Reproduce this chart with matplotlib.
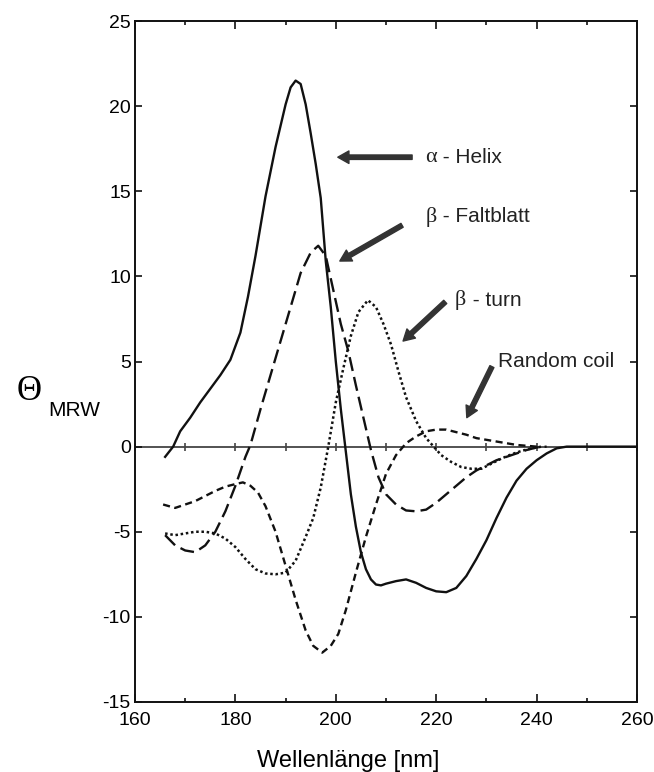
import matplotlib
matplotlib.use("Agg")
import matplotlib.pyplot as plt
from matplotlib.ticker import MultipleLocator

plt.rcParams['font.family'] = ['Liberation Sans', 'DejaVu Sans']
plt.rcParams['axes.unicode_minus'] = False

# CD spectra (wavelength in nm, theta_MRW)
helix_x = [166, 167.6, 169, 171, 173, 175, 177, 179, 181, 182.5, 184, 186, 188, 190, 191,
           192, 193, 194, 195, 196, 197, 198, 199, 200, 201, 202, 203, 204, 205, 206, 207,
           208, 209, 210, 212, 214, 216, 218, 220, 222, 224, 226, 228, 230, 232, 234, 236,
           238, 240, 242, 244, 246, 260]
helix_y = [-0.6, 0, 0.9, 1.7, 2.6, 3.4, 4.2, 5.1, 6.7, 8.8, 11.2, 14.7, 17.6, 20.1, 21.1,
           21.5, 21.3, 20.1, 18.4, 16.6, 14.6, 10.9, 8.2, 5.0, 2.2, -0.3, -2.8, -4.7, -6.2,
           -7.2, -7.8, -8.1, -8.15, -8.05, -7.9, -7.8, -8.0, -8.3, -8.5, -8.55, -8.3, -7.6,
           -6.6, -5.5, -4.2, -3.0, -2.0, -1.3, -0.8, -0.4, -0.1, 0, 0]

sheet_x = [166, 168, 170, 172, 174, 176, 178, 180, 182, 183, 185, 187, 189, 191, 193, 195,
           196.5, 198, 199.5, 201, 202.5, 204, 205.5, 207, 208.5, 210, 212, 214, 216, 218,
           220, 222, 224, 226, 228, 230, 232, 234, 236, 238, 240, 242]
sheet_y = [-5.2, -5.8, -6.1, -6.2, -5.8, -5.0, -3.8, -2.3, -0.6, 0.1, 2.2, 4.2, 6.2, 8.2,
           10.2, 11.4, 11.8, 11.2, 9.2, 7.2, 5.6, 3.6, 1.7, -0.2, -1.8, -2.8, -3.4, -3.75,
           -3.8, -3.7, -3.3, -2.8, -2.3, -1.8, -1.4, -1.1, -0.8, -0.6, -0.4, -0.2, -0.05, 0]

turn_x = [166, 168, 170, 172, 174, 176, 178, 180, 182, 184, 186, 188, 190, 192, 194, 195.5,
          197, 198.5, 200, 201.5, 203, 204.5, 206.4, 208, 209.5, 211, 212.5, 214, 216, 218,
          219.5, 221, 223, 225, 227, 229, 231, 233, 235, 237, 239, 241]
turn_y = [-5.1, -5.2, -5.1, -5.0, -5.0, -5.1, -5.4, -5.9, -6.6, -7.2, -7.45, -7.5, -7.4,
          -6.7, -5.3, -4.2, -2.4, 0, 2.6, 4.6, 6.5, 7.9, 8.6, 8.2, 7.2, 6.0, 4.4, 2.9, 1.5,
          0.5, 0, -0.5, -0.9, -1.2, -1.3, -1.3, -1.0, -0.7, -0.45, -0.25, -0.1, 0]

coil_x = [165.6, 168, 170, 172, 174, 176, 178, 180, 181.5, 183, 184.5, 186, 188, 190, 192,
          194, 195.5, 197.3, 199, 200.5, 202, 204, 206, 208, 210, 212, 214, 216, 218, 220,
          222, 224, 226, 228, 230, 232, 234, 236, 238, 240]
coil_y = [-3.4, -3.6, -3.4, -3.2, -2.9, -2.6, -2.35, -2.2, -2.1, -2.3, -2.7, -3.5, -5.0,
          -7.0, -9.0, -10.8, -11.7, -12.1, -11.7, -11.0, -9.6, -7.4, -5.3, -3.4, -1.6, -0.5,
          0.2, 0.6, 0.9, 1.0, 1.0, 0.85, 0.7, 0.5, 0.4, 0.3, 0.2, 0.1, 0.05, 0]

fig = plt.figure(figsize=(6.54, 7.72), dpi=100)
ax = fig.add_axes([135 / 654, 1 - 702 / 772, 502 / 654, 681 / 772])

lw = 1.7
ax.plot(helix_x, helix_y, color='#111111', lw=lw, solid_joinstyle='round')
ax.plot(sheet_x, sheet_y, color='#111111', lw=lw, linestyle=(0, (6, 2.6)))
ax.plot(turn_x, turn_y, color='#111111', lw=1.8, linestyle=(0, (1, 1.1)))
ax.plot(coil_x, coil_y, color='#111111', lw=lw, linestyle=(0, (3, 1.9)))

ax.set_xlim(160, 260)
ax.set_ylim(-15, 25)
ax.xaxis.set_major_locator(MultipleLocator(20))
ax.xaxis.set_minor_locator(MultipleLocator(10))
ax.yaxis.set_major_locator(MultipleLocator(5))
ax.tick_params(which='both', direction='in', top=True, right=True, width=1.2,
               labelsize=14, color='#111111')
ax.tick_params(axis='x', which='major', length=6, pad=7)
ax.tick_params(axis='x', which='minor', length=3)
ax.tick_params(axis='y', which='major', length=5, pad=3)
for s in ax.spines.values():
    s.set_linewidth(1.4)
    s.set_color('#111111')

# zero line with its own ticks
zero = ax.secondary_xaxis(15 / 40)
zero.xaxis.set_major_locator(MultipleLocator(10))
zero.tick_params(direction='inout', length=6, width=1.2, labelbottom=False, color='#444444')
zero.spines['bottom'].set_color('#444444')
zero.spines['bottom'].set_linewidth(1.3)

# annotations
arrow = dict(arrowstyle='simple,head_length=0.8,head_width=0.9,tail_width=0.32',
             color='#333333', shrinkA=0, shrinkB=0)
ax.annotate('', xy=(200.4, 17.0), xytext=(215.2, 17.0), arrowprops=arrow)
ax.annotate('', xy=(200.8, 10.9), xytext=(213.2, 13.0), arrowprops=arrow)
ax.annotate('', xy=(213.4, 6.2), xytext=(221.8, 8.5), arrowprops=arrow)
ax.annotate('', xy=(226.1, 1.7), xytext=(231.1, 4.7), arrowprops=arrow)


def label(greek, rest, x, y):
    ax.text(x, y, greek, family='Liberation Serif', fontsize=16, va='center', color='#222222')
    ax.annotate(rest, (x, y), xytext=(8.6, 0), textcoords='offset points',
                fontsize=15, va='center', color='#222222')


label('α', ' - Helix', 217.8, 17.0)
label('β', ' - Faltblatt', 217.8, 13.5)
label('β', ' - turn', 223.7, 8.6)
ax.text(232.3, 5.0, 'Random coil', fontsize=15, va='center', color='#222222')

fig.text(17 / 654, 1 - 392 / 772, 'Θ', family='Liberation Serif', fontsize=25, va='center')
fig.text(48 / 654, 1 - 410 / 772, 'MRW', fontsize=15, va='center')
fig.text(348 / 654, 1 - 767 / 772, 'Wellenlänge [nm]', fontsize=17, ha='center', va='baseline')

fig.savefig('out.png', dpi=100)
